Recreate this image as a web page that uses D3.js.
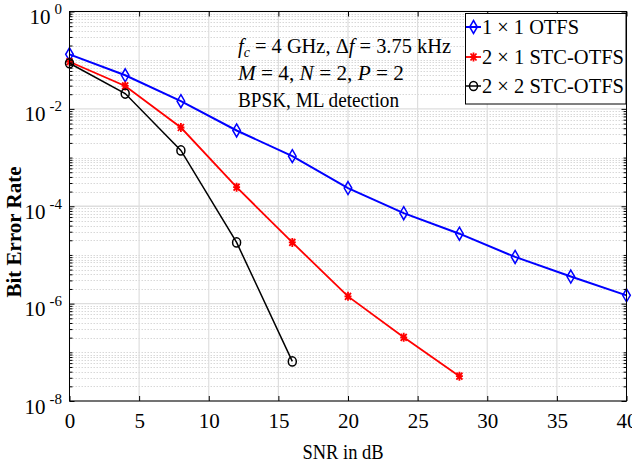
<!DOCTYPE html>
<html>
<head>
<meta charset="utf-8">
<script src="https://cdn.jsdelivr.net/npm/d3@7"></script>
<style>
    body { margin: 0; background: #fff; }
    text { font-family: "Liberation Serif", "Times New Roman", serif; fill: #000; }
</style>
</head>
<body>
<svg width="632" height="467"></svg>
<script>
// data
var snr = [0, 4, 8, 12, 16, 20, 24, 28, 32, 36, 40];
var berOtfs = [0.132, 0.049, 0.0144, 0.0036, 0.00107, 2.36e-4, 7.2e-5, 2.73e-5, 9.1e-6, 3.6e-6, 1.48e-6];
var berStc21 = [0.093, 0.0296, 0.00414, 2.47e-4, 1.81e-5, 1.41e-6, 2.03e-7, 3.23e-8];
var berStc22 = [0.0865, 0.0206, 0.0014, 1.81e-5, 6.5e-8];

var seriesNames = ["1 \u00d7 1 OTFS", "2 \u00d7 1 STC-OTFS", "2 \u00d7 2 STC-OTFS"];
var xTicks = [0, 5, 10, 15, 20, 25, 30, 35, 40];
var yTicks = [1, 1e-2, 1e-4, 1e-6, 1e-8];
var yTickExp = ["0", "-2", "-4", "-6", "-8"];

var svg = d3.select("svg");
var pLeft = 69.5, pRight = 626.5, pTop = 11.5, pBottom = 401;

var x = d3.scaleLinear().domain([0, 40]).range([pLeft, pRight]);
var y = d3.scaleLog().domain([1e-8, 1]).range([pBottom, pTop]);

// minor log values (everything that is not a labelled decade)
var yMinor = [];
for (var e = -8; e < 0; e++) {
    for (var k = 1; k <= 9; k++) {
        if (k === 1 && e % 2 === 0) continue;
        yMinor.push(k * Math.pow(10, e));
    }
}

// grid
var grid = svg.append("g");
grid.selectAll("line.ymin")
    .data(yMinor)
    .enter()
    .append("line")
    .attr("x1", pLeft).attr("x2", pRight)
    .attr("y1", function(d) { return Math.round(y(d)) + 0.5; })
    .attr("y2", function(d) { return Math.round(y(d)) + 0.5; })
    .attr("stroke", "#d8d8d8")
    .attr("stroke-dasharray", "1.5,1.5");
grid.selectAll("line.ymaj")
    .data(yTicks)
    .enter()
    .append("line")
    .attr("x1", pLeft).attr("x2", pRight)
    .attr("y1", function(d) { return y(d); })
    .attr("y2", function(d) { return y(d); })
    .attr("stroke", "#dedede")
    .attr("stroke-width", 1.3);
grid.selectAll("line.xmaj")
    .data(xTicks)
    .enter()
    .append("line")
    .attr("x1", function(d) { return x(d); })
    .attr("x2", function(d) { return x(d); })
    .attr("y1", pTop).attr("y2", pBottom)
    .attr("stroke", "#dedede")
    .attr("stroke-width", 1.2);

// series
var series = [
    {name: seriesNames[0], vals: berOtfs, color: "#0000ff", width: 2, marker: "diamond"},
    {name: seriesNames[1], vals: berStc21, color: "#ff0000", width: 1.8, marker: "star"},
    {name: seriesNames[2], vals: berStc22, color: "#000000", width: 1.5, marker: "circle"}
];

var line = d3.line()
    .x(function(d) { return x(d[0]); })
    .y(function(d) { return y(d[1]); });

function drawMarker(g, type, color, cx, cy) {
    if (type === "diamond") {
        g.append("path")
            .attr("d", "M" + cx + "," + (cy - 6.5) + "L" + (cx + 3.8) + "," + cy +
                       "L" + cx + "," + (cy + 6.5) + "L" + (cx - 3.8) + "," + cy + "Z")
            .attr("fill", "none").attr("stroke", color).attr("stroke-width", 1.5);
    } else if (type === "star") {
        var p = "M" + (cx - 3.5) + "," + cy + "L" + (cx + 3.5) + "," + cy +
                "M" + cx + "," + (cy - 4.5) + "L" + cx + "," + (cy + 4.5) +
                "M" + (cx - 3) + "," + (cy - 3.5) + "L" + (cx + 3) + "," + (cy + 3.5) +
                "M" + (cx - 3) + "," + (cy + 3.5) + "L" + (cx + 3) + "," + (cy - 3.5);
        g.append("path").attr("d", p)
            .attr("fill", "none").attr("stroke", color).attr("stroke-width", 1.8);
    } else {
        g.append("ellipse")
            .attr("cx", cx).attr("cy", cy).attr("rx", 4).attr("ry", 4.6)
            .attr("fill", "none").attr("stroke", color).attr("stroke-width", 1.5);
    }
}

series.forEach(function(s) {
    var pts = s.vals.map(function(v, i) { return [snr[i], v]; });
    var g = svg.append("g");
    g.append("path")
        .attr("d", line(pts))
        .attr("fill", "none")
        .attr("stroke", s.color)
        .attr("stroke-width", s.width);
    pts.forEach(function(p) {
        drawMarker(g, s.marker, s.color, x(p[0]), y(p[1]));
    });
});

// axes (ticks inward, on all four sides)
var axes = svg.append("g");
axes.append("g")
    .attr("transform", "translate(0," + pBottom + ")")
    .call(d3.axisBottom(x).tickValues(xTicks).tickSizeInner(-5).tickSizeOuter(0).tickPadding(12))
    .call(function(g) {
        g.select(".domain").remove();
        g.selectAll("text").attr("font-size", 21).attr("dy", "0.71em")
            .attr("font-family", "Liberation Serif");
    });
axes.append("g")
    .attr("transform", "translate(0," + pTop + ")")
    .call(d3.axisTop(x).tickValues(xTicks).tickSizeInner(-5).tickSizeOuter(0).tickFormat(""))
    .call(function(g) { g.select(".domain").remove(); });

axes.append("g")
    .attr("transform", "translate(" + pLeft + ",0)")
    .call(d3.axisLeft(y).tickValues(yMinor).tickSize(-3).tickFormat(""))
    .call(function(g) { g.select(".domain").remove(); });
axes.append("g")
    .attr("transform", "translate(" + pRight + ",0)")
    .call(d3.axisRight(y).tickValues(yMinor).tickSize(-3).tickFormat(""))
    .call(function(g) { g.select(".domain").remove(); });
axes.append("g")
    .attr("transform", "translate(" + pRight + ",0)")
    .call(d3.axisRight(y).tickValues(yTicks).tickSize(-5).tickFormat(""))
    .call(function(g) { g.select(".domain").remove(); });

axes.append("g")
    .attr("transform", "translate(" + pLeft + ",0)")
    .call(d3.axisLeft(y).tickValues(yTicks).tickSizeInner(-5).tickSizeOuter(0).tickPadding(7))
    .call(function(g) {
        g.select(".domain").remove();
        g.selectAll(".tick text")
            .text(null)
            .attr("x", -7.5)
            .attr("dy", "12")
            .attr("text-anchor", "end")
            .attr("font-family", "Liberation Serif")
            .each(function(d, i) {
                var t = d3.select(this);
                t.append("tspan").attr("font-size", 21).text("10");
                t.append("tspan").attr("font-size", 15).attr("dx", 4).attr("dy", -10).text(yTickExp[i]);
            });
    });
axes.selectAll(".tick line").attr("stroke", "#000");

axes.append("rect")
    .attr("x", pLeft).attr("y", pTop)
    .attr("width", pRight - pLeft).attr("height", pBottom - pTop)
    .attr("fill", "none").attr("stroke", "#000").attr("stroke-width", 1);

// axis titles
svg.append("text")
    .attr("x", 343).attr("y", 459)
    .attr("text-anchor", "middle")
    .attr("font-size", 21)
    .attr("textLength", 81).attr("lengthAdjust", "spacingAndGlyphs")
    .text("SNR in dB");
svg.append("text")
    .attr("transform", "translate(21,232) rotate(-90)")
    .attr("text-anchor", "middle")
    .attr("font-size", 21)
    .attr("font-weight", "bold")
    .text("Bit Error Rate");

// annotation
var note = svg.append("g").attr("font-size", 22);
var l1 = note.append("text").attr("x", 238).attr("y", 53)
    .attr("textLength", 213).attr("lengthAdjust", "spacingAndGlyphs");
l1.append("tspan").attr("font-style", "italic").text("f");
l1.append("tspan").attr("font-style", "italic").attr("font-size", 15).attr("dy", 4).text("c");
l1.append("tspan").attr("dy", -4).text(" = 4 GHz, \u0394");
l1.append("tspan").attr("font-style", "italic").text("f");
l1.append("tspan").text(" = 3.75 kHz");

var l2 = note.append("text").attr("x", 238).attr("y", 80)
    .attr("textLength", 166).attr("lengthAdjust", "spacingAndGlyphs");
l2.append("tspan").attr("font-style", "italic").text("M");
l2.append("tspan").text(" = 4, ");
l2.append("tspan").attr("font-style", "italic").text("N");
l2.append("tspan").text(" = 2, ");
l2.append("tspan").attr("font-style", "italic").text("P");
l2.append("tspan").text(" = 2");

note.append("text").attr("x", 238).attr("y", 106.5)
    .attr("textLength", 161).attr("lengthAdjust", "spacingAndGlyphs")
    .text("BPSK, ML detection");

// legend
var legend = svg.append("g");
legend.append("rect")
    .attr("x", 465.5).attr("y", 13.5)
    .attr("width", 160.5).attr("height", 90.5)
    .attr("fill", "#fff").attr("stroke", "#000").attr("stroke-width", 1);
var legendY = [27, 57, 86];
var legendLen = [97, 142, 142];
series.forEach(function(s, i) {
    var g = legend.append("g");
    g.append("line")
        .attr("x1", 466).attr("x2", 481)
        .attr("y1", legendY[i]).attr("y2", legendY[i])
        .attr("stroke", s.color).attr("stroke-width", s.width);
    drawMarker(g, s.marker, s.color, 473.5, legendY[i]);
    g.append("text")
        .attr("x", 482).attr("y", legendY[i] + 7)
        .attr("font-size", 22)
        .attr("textLength", legendLen[i]).attr("lengthAdjust", "spacingAndGlyphs")
        .text(s.name);
});
</script>
</body>
</html>
